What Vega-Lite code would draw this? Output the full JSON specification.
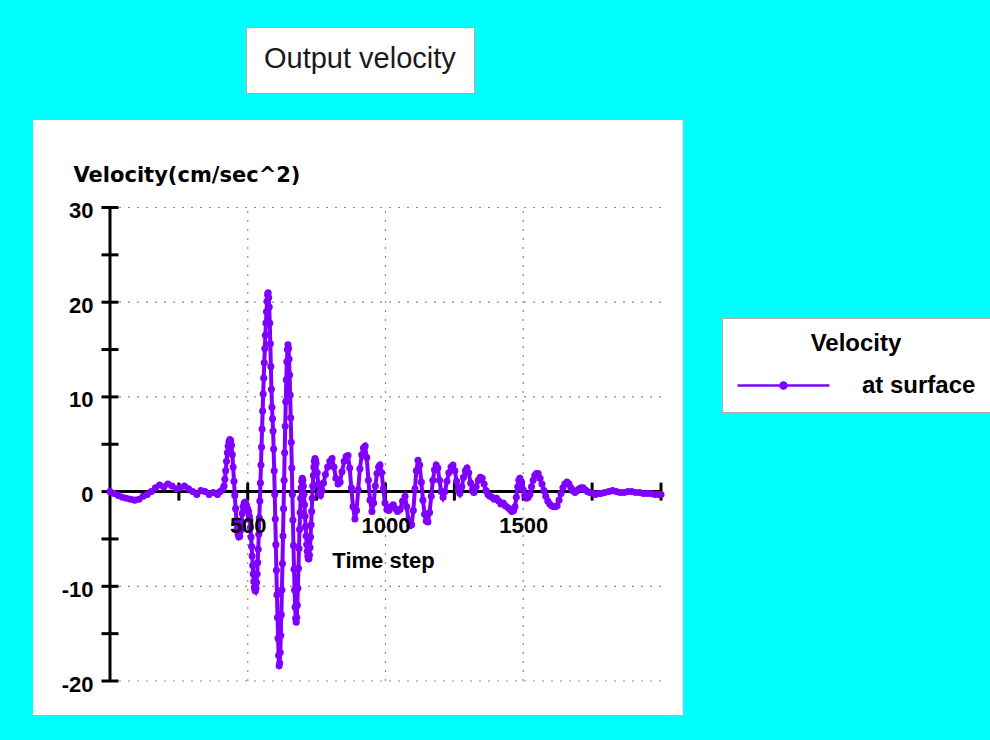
{
  "$schema": "https://vega.github.io/schema/vega-lite/v6.json",
  "width": 650,
  "height": 595,
  "autosize": {"type": "none"},
  "padding": {"left": 33, "top": 120, "right": 307, "bottom": 25},
  "background": "#00FFFF",
  "config": {"view": {"fill": "white", "stroke": null}},
  "datasets": {
    "hgrid": [{"v": 30, "kind": "grid"}, {"v": 20, "kind": "grid"}, {"v": 10, "kind": "grid"}, {"v": -10, "kind": "grid"}, {"v": -20, "kind": "grid"}],
    "vgrid": [{"t": 500}, {"t": 1000}, {"t": 1500}],
    "yticks": [{"v": -20}, {"v": -15}, {"v": -10}, {"v": -5}, {"v": 0}, {"v": 5}, {"v": 10}, {"v": 15}, {"v": 20}, {"v": 25}, {"v": 30}],
    "xticks": [{"t": 250}, {"t": 500}, {"t": 750}, {"t": 1000}, {"t": 1250}, {"t": 1500}, {"t": 1750}, {"t": 2000}],
    "vel": [
      {"t": 0, "v": 0, "s": "at surface"}, {"t": 15, "v": -0.2, "s": "at surface"}, {"t": 30, "v": -0.4, "s": "at surface"}, {"t": 45, "v": -0.6, "s": "at surface"}, {"t": 60, "v": -0.7, "s": "at surface"}, {"t": 75, "v": -0.8, "s": "at surface"}, {"t": 90, "v": -0.9, "s": "at surface"}, {"t": 105, "v": -0.8, "s": "at surface"}, {"t": 120, "v": -0.5, "s": "at surface"}, {"t": 135, "v": -0.3, "s": "at surface"}, {"t": 150, "v": 0, "s": "at surface"}, {"t": 165, "v": 0.4, "s": "at surface"}, {"t": 180, "v": 0.7, "s": "at surface"}, {"t": 195, "v": 0.5, "s": "at surface"}, {"t": 210, "v": 0.8, "s": "at surface"}, {"t": 225, "v": 0.6, "s": "at surface"}, {"t": 240, "v": 0.3, "s": "at surface"}, {"t": 255, "v": 0.4, "s": "at surface"}, {"t": 270, "v": 0.6, "s": "at surface"}, {"t": 285, "v": 0.3, "s": "at surface"}, {"t": 300, "v": 0, "s": "at surface"}, {"t": 315, "v": -0.3, "s": "at surface"}, {"t": 330, "v": 0.1, "s": "at surface"}, {"t": 345, "v": 0, "s": "at surface"}, {"t": 360, "v": -0.3, "s": "at surface"}, {"t": 375, "v": -0.1, "s": "at surface"}, {"t": 390, "v": -0.3, "s": "at surface"}, {"t": 400, "v": 0, "s": "at surface"}, {"t": 410, "v": 0.3, "s": "at surface"},
      {"t": 414, "v": 0.6, "s": "at surface"}, {"t": 417, "v": 1.3, "s": "at surface"}, {"t": 420, "v": 2.2, "s": "at surface"}, {"t": 423, "v": 3.2, "s": "at surface"}, {"t": 426, "v": 4.1, "s": "at surface"}, {"t": 429, "v": 4.8, "s": "at surface"}, {"t": 432, "v": 5.3, "s": "at surface"}, {"t": 435, "v": 5.5, "s": "at surface"}, {"t": 438, "v": 5.4, "s": "at surface"}, {"t": 441, "v": 4.9, "s": "at surface"}, {"t": 444, "v": 3.9, "s": "at surface"}, {"t": 447, "v": 2.6, "s": "at surface"}, {"t": 450, "v": 1.1, "s": "at surface"}, {"t": 453, "v": -0.4, "s": "at surface"}, {"t": 456, "v": -1.8, "s": "at surface"}, {"t": 459, "v": -3.0, "s": "at surface"}, {"t": 462, "v": -3.9, "s": "at surface"}, {"t": 465, "v": -4.5, "s": "at surface"}, {"t": 468, "v": -4.8, "s": "at surface"}, {"t": 471, "v": -4.7, "s": "at surface"}, {"t": 474, "v": -4.1, "s": "at surface"}, {"t": 477, "v": -3.2, "s": "at surface"}, {"t": 480, "v": -2.3, "s": "at surface"}, {"t": 483, "v": -1.6, "s": "at surface"}, {"t": 487, "v": -1.2, "s": "at surface"}, {"t": 491, "v": -1.1, "s": "at surface"}, {"t": 495, "v": -1.4, "s": "at surface"}, {"t": 499, "v": -1.8, "s": "at surface"}, {"t": 503, "v": -2.1, "s": "at surface"}, {"t": 506, "v": -2.6, "s": "at surface"},
      {"t": 508, "v": -3.0, "s": "at surface"}, {"t": 510, "v": -3.8, "s": "at surface"}, {"t": 512, "v": -4.8, "s": "at surface"}, {"t": 514, "v": -5.8, "s": "at surface"}, {"t": 516, "v": -6.8, "s": "at surface"}, {"t": 518, "v": -7.8, "s": "at surface"}, {"t": 520, "v": -8.7, "s": "at surface"}, {"t": 522, "v": -9.5, "s": "at surface"}, {"t": 524, "v": -10.1, "s": "at surface"}, {"t": 526, "v": -10.4, "s": "at surface"}, {"t": 528, "v": -10.5, "s": "at surface"}, {"t": 530, "v": -10.2, "s": "at surface"},
      {"t": 532, "v": -9.6, "s": "at surface"}, {"t": 534, "v": -8.7, "s": "at surface"}, {"t": 536, "v": -7.5, "s": "at surface"}, {"t": 538, "v": -6.1, "s": "at surface"}, {"t": 540, "v": -4.5, "s": "at surface"}, {"t": 542, "v": -2.8, "s": "at surface"}, {"t": 544, "v": -1.0, "s": "at surface"}, {"t": 546, "v": 0.9, "s": "at surface"}, {"t": 548, "v": 2.8, "s": "at surface"}, {"t": 550, "v": 4.7, "s": "at surface"}, {"t": 552, "v": 6.6, "s": "at surface"}, {"t": 554, "v": 8.5, "s": "at surface"}, {"t": 556, "v": 10.3, "s": "at surface"}, {"t": 558, "v": 12.0, "s": "at surface"}, {"t": 560, "v": 13.6, "s": "at surface"}, {"t": 562, "v": 15.1, "s": "at surface"}, {"t": 564, "v": 16.5, "s": "at surface"}, {"t": 566, "v": 17.8, "s": "at surface"}, {"t": 568, "v": 19.0, "s": "at surface"}, {"t": 570, "v": 20.1, "s": "at surface"}, {"t": 572, "v": 20.8, "s": "at surface"}, {"t": 574, "v": 21.0, "s": "at surface"}, {"t": 576, "v": 20.5, "s": "at surface"},
      {"t": 578, "v": 19.5, "s": "at surface"}, {"t": 580, "v": 17.8, "s": "at surface"}, {"t": 582, "v": 15.6, "s": "at surface"}, {"t": 584, "v": 13.2, "s": "at surface"}, {"t": 586, "v": 10.8, "s": "at surface"}, {"t": 588, "v": 8.9, "s": "at surface"}, {"t": 590, "v": 7.7, "s": "at surface"}, {"t": 592, "v": 6.4, "s": "at surface"}, {"t": 594, "v": 4.5, "s": "at surface"}, {"t": 596, "v": 2.2, "s": "at surface"}, {"t": 598, "v": -0.3, "s": "at surface"}, {"t": 600, "v": -2.9, "s": "at surface"}, {"t": 602, "v": -5.6, "s": "at surface"}, {"t": 604, "v": -8.3, "s": "at surface"}, {"t": 606, "v": -10.9, "s": "at surface"}, {"t": 608, "v": -13.3, "s": "at surface"}, {"t": 610, "v": -15.5, "s": "at surface"}, {"t": 612, "v": -17.3, "s": "at surface"}, {"t": 614, "v": -18.4, "s": "at surface"}, {"t": 616, "v": -18.1, "s": "at surface"},
      {"t": 618, "v": -17.0, "s": "at surface"}, {"t": 620, "v": -15.2, "s": "at surface"}, {"t": 622, "v": -13.0, "s": "at surface"}, {"t": 624, "v": -10.4, "s": "at surface"}, {"t": 626, "v": -7.6, "s": "at surface"}, {"t": 628, "v": -4.7, "s": "at surface"}, {"t": 630, "v": -1.8, "s": "at surface"}, {"t": 632, "v": 1.2, "s": "at surface"}, {"t": 634, "v": 4.1, "s": "at surface"}, {"t": 636, "v": 6.9, "s": "at surface"}, {"t": 638, "v": 9.5, "s": "at surface"}, {"t": 640, "v": 11.8, "s": "at surface"}, {"t": 642, "v": 13.7, "s": "at surface"}, {"t": 644, "v": 15.0, "s": "at surface"}, {"t": 646, "v": 15.5, "s": "at surface"}, {"t": 648, "v": 15.1, "s": "at surface"},
      {"t": 650, "v": 14.0, "s": "at surface"}, {"t": 652, "v": 12.3, "s": "at surface"}, {"t": 654, "v": 10.2, "s": "at surface"}, {"t": 656, "v": 7.8, "s": "at surface"}, {"t": 658, "v": 5.2, "s": "at surface"}, {"t": 660, "v": 2.5, "s": "at surface"}, {"t": 662, "v": -0.3, "s": "at surface"}, {"t": 664, "v": -3.0, "s": "at surface"}, {"t": 666, "v": -5.7, "s": "at surface"}, {"t": 668, "v": -8.2, "s": "at surface"}, {"t": 670, "v": -10.4, "s": "at surface"}, {"t": 672, "v": -12.2, "s": "at surface"}, {"t": 674, "v": -13.4, "s": "at surface"}, {"t": 676, "v": -13.8, "s": "at surface"}, {"t": 678, "v": -13.3, "s": "at surface"},
      {"t": 680, "v": -12.0, "s": "at surface"}, {"t": 682, "v": -10.2, "s": "at surface"}, {"t": 684, "v": -8.1, "s": "at surface"}, {"t": 686, "v": -6.0, "s": "at surface"}, {"t": 688, "v": -4.0, "s": "at surface"}, {"t": 690, "v": -2.2, "s": "at surface"}, {"t": 692, "v": -0.7, "s": "at surface"}, {"t": 694, "v": 0.4, "s": "at surface"}, {"t": 696, "v": 1.1, "s": "at surface"}, {"t": 698, "v": 1.4, "s": "at surface"}, {"t": 700, "v": 1.2, "s": "at surface"},
      {"t": 702, "v": 0.6, "s": "at surface"}, {"t": 704, "v": -0.3, "s": "at surface"}, {"t": 706, "v": -1.4, "s": "at surface"}, {"t": 708, "v": -2.6, "s": "at surface"}, {"t": 710, "v": -3.7, "s": "at surface"}, {"t": 712, "v": -4.7, "s": "at surface"}, {"t": 714, "v": -5.6, "s": "at surface"}, {"t": 716, "v": -6.3, "s": "at surface"}, {"t": 718, "v": -6.8, "s": "at surface"}, {"t": 720, "v": -7.1, "s": "at surface"}, {"t": 722, "v": -7.1, "s": "at surface"}, {"t": 724, "v": -6.7, "s": "at surface"},
      {"t": 726, "v": -5.9, "s": "at surface"}, {"t": 728, "v": -4.8, "s": "at surface"}, {"t": 730, "v": -3.5, "s": "at surface"}, {"t": 732, "v": -2.1, "s": "at surface"}, {"t": 734, "v": -0.7, "s": "at surface"}, {"t": 736, "v": 0.6, "s": "at surface"}, {"t": 738, "v": 1.7, "s": "at surface"}, {"t": 740, "v": 2.6, "s": "at surface"}, {"t": 742, "v": 3.2, "s": "at surface"}, {"t": 744, "v": 3.5, "s": "at surface"}, {"t": 746, "v": 3.3, "s": "at surface"},
      {"t": 748, "v": 3.0, "s": "at surface"}, {"t": 752, "v": 2.0, "s": "at surface"}, {"t": 756, "v": 0.8, "s": "at surface"}, {"t": 760, "v": -0.2, "s": "at surface"}, {"t": 764, "v": -0.4, "s": "at surface"}, {"t": 769, "v": 0.1, "s": "at surface"}, {"t": 775, "v": 0.9, "s": "at surface"}, {"t": 782, "v": 1.8, "s": "at surface"}, {"t": 790, "v": 2.6, "s": "at surface"}, {"t": 798, "v": 3.2, "s": "at surface"}, {"t": 806, "v": 3.5, "s": "at surface"}, {"t": 813, "v": 2.6, "s": "at surface"}, {"t": 820, "v": 1.4, "s": "at surface"}, {"t": 828, "v": 0.8, "s": "at surface"}, {"t": 835, "v": 1.0, "s": "at surface"}, {"t": 842, "v": 2.1, "s": "at surface"}, {"t": 850, "v": 3.2, "s": "at surface"}, {"t": 857, "v": 3.7, "s": "at surface"}, {"t": 864, "v": 3.8, "s": "at surface"}, {"t": 870, "v": 2.5, "s": "at surface"}, {"t": 876, "v": 0.4, "s": "at surface"}, {"t": 882, "v": -1.6, "s": "at surface"}, {"t": 889, "v": -2.9, "s": "at surface"}, {"t": 895, "v": -2.0, "s": "at surface"}, {"t": 901, "v": 0.2, "s": "at surface"}, {"t": 907, "v": 2.4, "s": "at surface"}, {"t": 914, "v": 3.9, "s": "at surface"}, {"t": 920, "v": 4.6, "s": "at surface"}, {"t": 926, "v": 4.8, "s": "at surface"}, {"t": 932, "v": 3.6, "s": "at surface"}, {"t": 938, "v": 1.2, "s": "at surface"}, {"t": 944, "v": -0.9, "s": "at surface"}, {"t": 951, "v": -2.1, "s": "at surface"}, {"t": 957, "v": -1.2, "s": "at surface"}, {"t": 963, "v": 0.6, "s": "at surface"}, {"t": 969, "v": 1.9, "s": "at surface"}, {"t": 975, "v": 2.6, "s": "at surface"}, {"t": 980, "v": 2.8, "s": "at surface"}, {"t": 986, "v": 2.0, "s": "at surface"}, {"t": 992, "v": 0.3, "s": "at surface"}, {"t": 998, "v": -1.2, "s": "at surface"},
      {"t": 1005, "v": -1.9, "s": "at surface"}, {"t": 1012, "v": -2.0, "s": "at surface"}, {"t": 1020, "v": -1.6, "s": "at surface"}, {"t": 1028, "v": -1.4, "s": "at surface"}, {"t": 1036, "v": -1.8, "s": "at surface"}, {"t": 1044, "v": -2.1, "s": "at surface"}, {"t": 1053, "v": -1.9, "s": "at surface"}, {"t": 1062, "v": -1.0, "s": "at surface"}, {"t": 1071, "v": -0.5, "s": "at surface"}, {"t": 1077, "v": -1.6, "s": "at surface"}, {"t": 1083, "v": -3.0, "s": "at surface"}, {"t": 1089, "v": -3.6, "s": "at surface"}, {"t": 1095, "v": -3.5, "s": "at surface"}, {"t": 1101, "v": -2.0, "s": "at surface"}, {"t": 1107, "v": 0.3, "s": "at surface"}, {"t": 1112, "v": 2.2, "s": "at surface"}, {"t": 1118, "v": 3.3, "s": "at surface"}, {"t": 1124, "v": 2.8, "s": "at surface"}, {"t": 1130, "v": 1.0, "s": "at surface"}, {"t": 1136, "v": -0.9, "s": "at surface"}, {"t": 1142, "v": -2.4, "s": "at surface"}, {"t": 1148, "v": -3.1, "s": "at surface"}, {"t": 1154, "v": -3.2, "s": "at surface"}, {"t": 1160, "v": -2.2, "s": "at surface"}, {"t": 1166, "v": -0.5, "s": "at surface"}, {"t": 1172, "v": 1.2, "s": "at surface"}, {"t": 1178, "v": 2.3, "s": "at surface"}, {"t": 1184, "v": 2.8, "s": "at surface"}, {"t": 1190, "v": 2.5, "s": "at surface"}, {"t": 1196, "v": 1.2, "s": "at surface"},
      {"t": 1202, "v": 0.0, "s": "at surface"}, {"t": 1209, "v": -0.6, "s": "at surface"}, {"t": 1216, "v": 0.0, "s": "at surface"}, {"t": 1223, "v": 1.1, "s": "at surface"}, {"t": 1230, "v": 2.0, "s": "at surface"}, {"t": 1238, "v": 2.6, "s": "at surface"}, {"t": 1245, "v": 2.8, "s": "at surface"}, {"t": 1252, "v": 2.2, "s": "at surface"}, {"t": 1258, "v": 1.1, "s": "at surface"}, {"t": 1264, "v": 0.2, "s": "at surface"}, {"t": 1270, "v": -0.2, "s": "at surface"}, {"t": 1277, "v": 0.5, "s": "at surface"}, {"t": 1283, "v": 1.5, "s": "at surface"}, {"t": 1290, "v": 2.2, "s": "at surface"}, {"t": 1296, "v": 2.5, "s": "at surface"}, {"t": 1302, "v": 2.0, "s": "at surface"}, {"t": 1309, "v": 0.9, "s": "at surface"}, {"t": 1315, "v": 0.1, "s": "at surface"}, {"t": 1321, "v": -0.1, "s": "at surface"}, {"t": 1329, "v": 0.5, "s": "at surface"}, {"t": 1337, "v": 1.2, "s": "at surface"}, {"t": 1344, "v": 1.5, "s": "at surface"}, {"t": 1351, "v": 1.4, "s": "at surface"}, {"t": 1358, "v": 0.8, "s": "at surface"}, {"t": 1365, "v": 0.1, "s": "at surface"}, {"t": 1372, "v": -0.3, "s": "at surface"}, {"t": 1379, "v": -0.5, "s": "at surface"}, {"t": 1387, "v": -0.6, "s": "at surface"}, {"t": 1395, "v": -0.8, "s": "at surface"},
      {"t": 1403, "v": -0.7, "s": "at surface"}, {"t": 1411, "v": -1.0, "s": "at surface"}, {"t": 1419, "v": -1.3, "s": "at surface"}, {"t": 1427, "v": -1.2, "s": "at surface"}, {"t": 1435, "v": -1.5, "s": "at surface"}, {"t": 1445, "v": -1.7, "s": "at surface"}, {"t": 1452, "v": -1.9, "s": "at surface"}, {"t": 1459, "v": -2.1, "s": "at surface"}, {"t": 1465, "v": -2.0, "s": "at surface"}, {"t": 1470, "v": -1.6, "s": "at surface"}, {"t": 1475, "v": -0.6, "s": "at surface"}, {"t": 1480, "v": 0.5, "s": "at surface"}, {"t": 1484, "v": 1.2, "s": "at surface"}, {"t": 1488, "v": 1.4, "s": "at surface"}, {"t": 1494, "v": 1.0, "s": "at surface"}, {"t": 1500, "v": 0.2, "s": "at surface"}, {"t": 1506, "v": -0.4, "s": "at surface"}, {"t": 1512, "v": -0.7, "s": "at surface"}, {"t": 1518, "v": -0.6, "s": "at surface"}, {"t": 1524, "v": -0.3, "s": "at surface"}, {"t": 1530, "v": 0.5, "s": "at surface"}, {"t": 1536, "v": 1.2, "s": "at surface"}, {"t": 1542, "v": 1.7, "s": "at surface"}, {"t": 1548, "v": 1.9, "s": "at surface"}, {"t": 1554, "v": 1.9, "s": "at surface"}, {"t": 1561, "v": 1.4, "s": "at surface"}, {"t": 1568, "v": 0.8, "s": "at surface"}, {"t": 1575, "v": 0.1, "s": "at surface"}, {"t": 1582, "v": -0.5, "s": "at surface"}, {"t": 1589, "v": -1.0, "s": "at surface"}, {"t": 1596, "v": -1.3, "s": "at surface"},
      {"t": 1603, "v": -1.5, "s": "at surface"}, {"t": 1610, "v": -1.6, "s": "at surface"}, {"t": 1617, "v": -1.6, "s": "at surface"}, {"t": 1623, "v": -1.5, "s": "at surface"}, {"t": 1630, "v": -0.9, "s": "at surface"}, {"t": 1637, "v": -0.2, "s": "at surface"}, {"t": 1644, "v": 0.4, "s": "at surface"}, {"t": 1651, "v": 0.8, "s": "at surface"}, {"t": 1659, "v": 1.0, "s": "at surface"}, {"t": 1666, "v": 0.8, "s": "at surface"}, {"t": 1673, "v": 0.4, "s": "at surface"}, {"t": 1680, "v": 0.1, "s": "at surface"}, {"t": 1688, "v": -0.1, "s": "at surface"}, {"t": 1695, "v": 0.1, "s": "at surface"}, {"t": 1703, "v": 0.3, "s": "at surface"}, {"t": 1710, "v": 0.4, "s": "at surface"}, {"t": 1717, "v": 0.4, "s": "at surface"}, {"t": 1725, "v": 0.2, "s": "at surface"}, {"t": 1733, "v": 0.0, "s": "at surface"}, {"t": 1742, "v": -0.1, "s": "at surface"}, {"t": 1752, "v": -0.2, "s": "at surface"}, {"t": 1762, "v": -0.3, "s": "at surface"}, {"t": 1772, "v": -0.2, "s": "at surface"}, {"t": 1782, "v": -0.2, "s": "at surface"}, {"t": 1796, "v": -0.1, "s": "at surface"},
      {"t": 1810, "v": 0.0, "s": "at surface"}, {"t": 1824, "v": 0.1, "s": "at surface"}, {"t": 1838, "v": 0.0, "s": "at surface"}, {"t": 1852, "v": -0.1, "s": "at surface"}, {"t": 1866, "v": -0.1, "s": "at surface"}, {"t": 1880, "v": 0.0, "s": "at surface"}, {"t": 1894, "v": 0.0, "s": "at surface"}, {"t": 1908, "v": -0.1, "s": "at surface"}, {"t": 1922, "v": -0.1, "s": "at surface"}, {"t": 1936, "v": -0.2, "s": "at surface"}, {"t": 1950, "v": -0.2, "s": "at surface"}, {"t": 1964, "v": -0.2, "s": "at surface"}, {"t": 1978, "v": -0.3, "s": "at surface"}, {"t": 1992, "v": -0.3, "s": "at surface"}, {"t": 2000, "v": -0.3, "s": "at surface"}
    ]
  },
  "layer": [
    {
      "data": {"name": "vgrid"},
      "mark": {"type": "rule", "color": "#8c8c8c", "strokeWidth": 1.2, "strokeDash": [2, 7]},
      "encoding": {
        "x": {"field": "t", "type": "quantitative"},
        "y": {"datum": -20},
        "y2": {"datum": 30}
      }
    },
    {
      "data": {"name": "hgrid"},
      "mark": {"type": "rule", "color": "#8c8c8c", "strokeWidth": 1.2, "strokeDash": [2, 7]},
      "encoding": {
        "y": {"field": "v", "type": "quantitative"},
        "x": {"datum": 0},
        "x2": {"datum": 2000},
        "opacity": {
          "field": "kind", "type": "nominal",
          "scale": {"range": [1, 1]},
          "legend": {
            "title": "Output velocity", "orient": "none", "legendX": 213, "legendY": -93,
            "fillColor": "white", "strokeColor": "#b4a898", "padding": 18,
            "titlePadding": 0, "titleFont": "Liberation Sans", "titleFontSize": 29, "titleFontWeight": "normal",
            "titleColor": "#1a1a1a", "titleLimit": 500,
            "symbolSize": 0, "symbolOpacity": 0, "symbolStrokeWidth": 0,
            "labelFontSize": 1, "labelExpr": "''", "labelOffset": 0
          }
        }
      }
    },
    {
      "data": {"values": [{}]},
      "mark": {"type": "rule", "color": "black", "strokeWidth": 3},
      "encoding": {"x": {"datum": 0}, "y": {"datum": -20}, "y2": {"datum": 30}}
    },
    {
      "data": {"values": [{}]},
      "mark": {"type": "rule", "color": "black", "strokeWidth": 3},
      "encoding": {"y": {"datum": 0}, "x": {"datum": 0}, "x2": {"datum": 2000}}
    },
    {
      "data": {"name": "yticks"},
      "mark": {"type": "tick", "orient": "horizontal", "size": 17, "thickness": 3, "color": "black", "opacity": 1},
      "encoding": {"x": {"datum": 0}, "y": {"field": "v", "type": "quantitative"}}
    },
    {
      "data": {"name": "xticks"},
      "mark": {"type": "tick", "orient": "vertical", "size": 18, "thickness": 3, "color": "black", "opacity": 1},
      "encoding": {"y": {"datum": 0}, "x": {"field": "t", "type": "quantitative"}}
    },
    {
      "data": {"name": "vel"},
      "mark": {"type": "line", "strokeWidth": 4, "point": {"filled": true, "size": 50, "opacity": 1}},
      "encoding": {
        "x": {
          "field": "t", "type": "quantitative",
          "scale": {"domain": [-279.5, 2079.9], "nice": false, "zero": false},
          "axis": {
            "orient": "bottom", "offset": -223.4, "values": [500, 1000, 1500], "labelExpr": "'' + datum.value",
            "domain": false, "ticks": false, "tickSize": 0, "grid": false,
            "labelPadding": 24, "labelFont": "Liberation Sans", "labelFontSize": 22, "labelFontWeight": "bold",
            "labelColor": "black", "labelFlush": false, "labelOverlap": false, "zindex": 1,
            "title": "Time step", "titleFont": "Liberation Sans", "titleFontSize": 22, "titleFontWeight": "bold",
            "titleColor": "black", "titleX": 350, "titleY": 76, "titleBaseline": "alphabetic"
          }
        },
        "y": {
          "field": "v", "type": "quantitative",
          "scale": {"domain": [-23.59, 39.24], "nice": false, "zero": false},
          "axis": {
            "orient": "left", "offset": -77, "values": [-20, -10, 0, 10, 20, 30], "labelExpr": "'' + datum.value",
            "domain": false, "ticks": false, "tickSize": 0, "grid": false,
            "labelPadding": 17, "labelOffset": 3, "labelFont": "Liberation Sans", "labelFontSize": 22, "labelFontWeight": "bold",
            "labelColor": "black", "labelFlush": false, "labelOverlap": false, "zindex": 1,
            "title": "Velocity(cm/sec^2)", "titleAngle": 0, "titleX": -37, "titleY": 61,
            "titleAlign": "left", "titleBaseline": "alphabetic", "titleFont": "DejaVu Sans", "titleFontSize": 21,
            "titleFontWeight": "bold", "titleColor": "black", "titleLimit": 400
          }
        },
        "color": {
          "field": "s", "type": "nominal",
          "scale": {"range": ["#8000FF"]},
          "legend": {
            "title": "Velocity", "orient": "none", "legendX": 689, "legendY": 198,
            "fillColor": "white", "strokeColor": "#b4a898", "padding": 14,
            "titleFont": "Liberation Sans", "titleFontSize": 24, "titleFontWeight": "bold", "titleColor": "black",
            "titleAnchor": "middle", "titlePadding": 16,
            "labelFont": "Liberation Sans", "labelFontSize": 24, "labelFontWeight": "bold", "labelColor": "black",
            "labelOffset": 99,
            "symbolType": "M-1,0L6.667,0M2.58,0A0.25,0.25,0,1,1,3.08,0A0.25,0.25,0,1,1,2.58,0Z",
            "symbolSize": 576, "symbolStrokeWidth": 2.5,
            "symbolFillColor": "#8000FF", "symbolStrokeColor": "#8000FF"
          }
        }
      }
    }
  ]
}
